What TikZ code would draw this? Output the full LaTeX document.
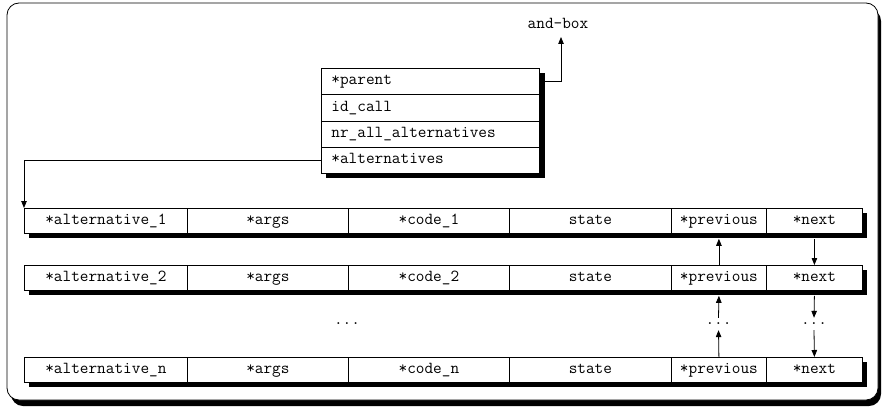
\documentclass[tikz,border=0pt]{standalone}
\usepackage{fontspec}
\usetikzlibrary{arrows.meta}
\begin{document}
\begin{tikzpicture}[x=1pt,y=-1pt,
  font=\ttfamily\fontsize{16.8}{19}\selectfont,
  cell/.style={draw, line width=0.8pt, fill=white, inner sep=0pt, anchor=north west,
    minimum height=25pt, text height=9pt, text depth=2.5pt},
  field/.style={draw, line width=0.8pt, fill=white, inner ysep=0pt, inner xsep=10pt, anchor=north west,
    text width=198pt, align=left, minimum height=26.25pt, text height=9pt, text depth=2.5pt},
  dotsnode/.style={inner sep=0pt, minimum height=12pt, minimum width=24pt},
  arr/.style={line width=0.8pt, -{Triangle[length=7pt,width=5.5pt]}}]
\useasboundingbox (0,0) rectangle (882,412);
% outer frame with shadow
\fill[black, rounded corners=12pt] (11,9) rectangle (881,406);
\draw[line width=0.8pt, fill=white, rounded corners=12pt] (7,3) rectangle (878,400);
% top box
\fill[black] (326,73) rectangle (545,178);
\node[field] (p1) at (321,68) {*parent};
\node[field] (p2) at (321,94.25) {id\_call};
\node[field] (p3) at (321,120.5) {nr\_all\_alternatives};
\node[field] (p4) at (321,146.75) {*alternatives};
\node[anchor=south, inner xsep=0pt, inner ysep=8pt] (andbox) at (558,37) {and-box};
\draw[arr] (p1.east) -| ([xshift=3pt]andbox.south);
% rows
\foreach \r/\y/\k in {1/208/1, 2/265/2, 3/357/n} {
  \fill[black] (29,\y+5) rectangle (867,\y+30);
  \foreach \c/\xa/\xb/\lab in {1/24/187/*alternative\_\k, 2/187/348/*args, 3/348/509/*code\_\k,
      4/509/671/state, 5/671/766/*previous, 6/766/862/*next} {
    \pgfmathsetmacro{\w}{\xb-\xa}
    \node[cell, minimum width=\w pt] (r\r c\c) at (\xa,\y) {\lab};
  }
}
\draw[arr] (p4.west) -| (r1c1.north west);
% previous / next links
\draw[arr] (r2c5.north) -- ([yshift=-5pt]r1c5.south);
\draw[arr] ([yshift=-5pt]r1c6.south) -- (r2c6.north);
\node[dotsnode] (dm) at (347,324) {...};
\node[dotsnode] (dp) at (718.5,324) {...};
\node[dotsnode] (dn) at (814,324) {...};
\draw[arr] (dp.north) -- ([yshift=-5pt]r2c5.south);
\draw[arr] (r3c5.north) -- (dp.south);
\draw[arr] ([yshift=-5pt]r2c6.south) -- (dn.north);
\draw[arr] (dn.south) -- (r3c6.north);
\end{tikzpicture}
\end{document}
